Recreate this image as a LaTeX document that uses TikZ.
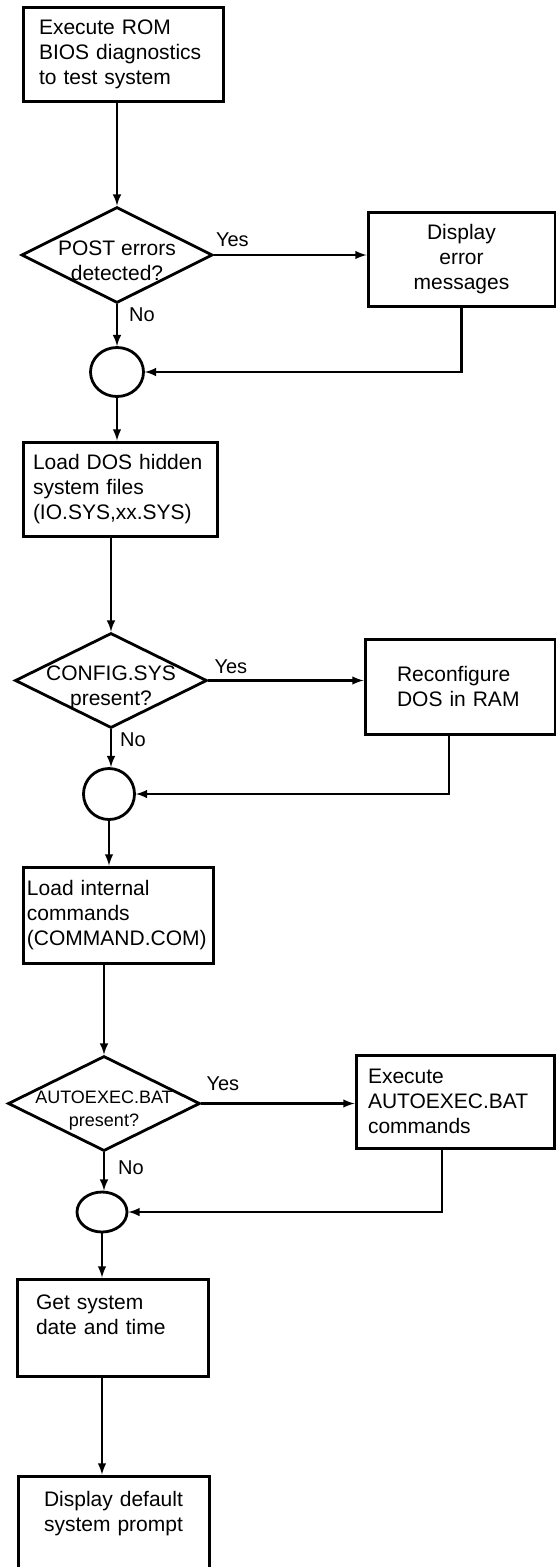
\documentclass[tikz,border=0pt]{standalone}
\usepackage{fontspec}
\setmainfont{Liberation Sans}
\usetikzlibrary{positioning,shapes.geometric,arrows}
\tikzset{
  prc/.style  ={rectangle, draw, line width=3pt, align=left,
                font=\fontsize{21pt}{25pt}\selectfont,
                minimum height=95pt, inner ysep=2pt},
  prcc/.style ={prc, align=center},
  dcs/.style  ={diamond, draw, line width=2.8pt, aspect=2, inner sep=0pt,
                text height=0pt, text depth=0pt,
                font=\fontsize{21pt}{25pt}\selectfont,
                minimum width=192pt, minimum height=95pt},
  jn/.style   ={ellipse, draw, line width=2.8pt, inner sep=0pt},
  fl/.style   ={-latex, line width=2.8pt},
  lbl/.style  ={font=\fontsize{20pt}{24pt}\selectfont, inner sep=0pt}
}
\begin{document}
\begin{tikzpicture}[x=1pt, y=-1pt]
  \useasboundingbox (0,0) rectangle (555,1567);
  % main column
  \node[prc, minimum width=200pt, text width=168pt, inner xsep=16pt, minimum height=94pt] (boot) at (123,54)
    {Execute ROM\\BIOS diagnostics\\to test system};
  \node[dcs, minimum width=191pt, minimum height=96pt] (post) at (117,255)
    {\begin{tabular}[t]{@{}c@{}}POST errors\\detected?\end{tabular}};
  \node[jn, minimum width=53pt, minimum height=49pt] (j1) at (117,372) {};
  \node[prc, minimum width=194pt, text width=174pt, inner xsep=10pt, minimum height=94pt] (dos) at (120,489)
    {Load DOS hidden\\system files\\(IO.SYS,xx.SYS)};
  \node[dcs] (cfg) at (111,680.5)
    {\begin{tabular}[t]{@{}c@{}}CONFIG.SYS\\present?\end{tabular}};
  \node[jn, minimum width=51pt, minimum height=51pt] (j2) at (109,794) {};
  \node[prc, minimum width=190pt, text width=182pt, inner xsep=4pt, minimum height=96pt] (cmd) at (118,915)
    {Load internal\\commands\\(COMMAND.COM)};
  \node[dcs, font=\fontsize{18pt}{23pt}\selectfont] (auto) at (104,1103.5)
    {\begin{tabular}[t]{@{}c@{}}AUTOEXEC.BAT\\present?\end{tabular}};
  \node[jn, minimum width=50pt, minimum height=40pt] (j3) at (102,1212) {};
  \node[prc, minimum width=191pt, text width=153pt, inner xsep=19pt, minimum height=97pt] (date) at (112.5,1327.5)
    {Get system\\date and time\\\mbox{}};
  \node[prcc, minimum width=191pt, text width=171pt, inner xsep=10pt] (prompt) at (113.5,1523.5)
    {Display default\\system prompt\\\mbox{}};
  % side boxes
  \node[prcc, minimum width=187pt, text width=167pt, inner xsep=10pt, minimum height=94pt] (err) at (461.5,259)
    {Display\\error\\messages};
  \node[prc, minimum width=190pt, text width=126pt, inner xsep=32pt] (rcfg) at (460,686.5)
    {Reconfigure\\DOS in RAM};
  \node[prc, minimum width=198pt, text width=174pt, inner xsep=12pt, minimum height=93pt] (aexe) at (455,1101.5)
    {Execute\\AUTOEXEC.BAT\\commands};
  % labels
  \node[lbl, above right=8pt and 2pt of post.east] (y1) {Yes};
  \node[lbl, below right=3pt and 12pt of post.south] (n1) {No};
  \node[lbl, above right=7pt and 6pt of cfg.east] (y2) {Yes};
  \node[lbl, below right=3pt and 9pt of cfg.south] (n2) {No};
  \node[lbl, above right=13pt and 5pt of auto.east] (y3) {Yes};
  \node[lbl, below right=8pt and 14pt of auto.south] (n3) {No};
  % connectors
  \draw[fl] (post.north |- boot.south) -- (post.north);
  \draw[fl] (post.east) -- (post.east -| err.west);
  \draw[fl] (post.south) -- (j1.north);
  \draw[fl] (err.south) |- (j1.east);
  \draw[fl] (j1.south) -- (j1.south |- dos.north);
  \draw[fl] (cfg.north |- dos.south) -- (cfg.north);
  \draw[fl] (cfg.east) -- (cfg.east -| rcfg.west);
  \draw[fl] (cfg.south) -- (cfg.south |- j2.north);
  \draw[fl] ([xshift=-11pt]rcfg.south) |- (j2.east);
  \draw[fl] (j2.south) -- (j2.south |- cmd.north);
  \draw[fl] (auto.north |- cmd.south) -- (auto.north);
  \draw[fl] (auto.east) -- (auto.east -| aexe.west);
  \draw[fl] (auto.south) -- (auto.south |- j3.north);
  \draw[fl] ([xshift=-13pt]aexe.south) |- (j3.east);
  \draw[fl] (j3.south) -- (j3.south |- date.north);
  \draw[fl] (j3.south |- date.south) -- (j3.south |- prompt.north);
\end{tikzpicture}
\end{document}
